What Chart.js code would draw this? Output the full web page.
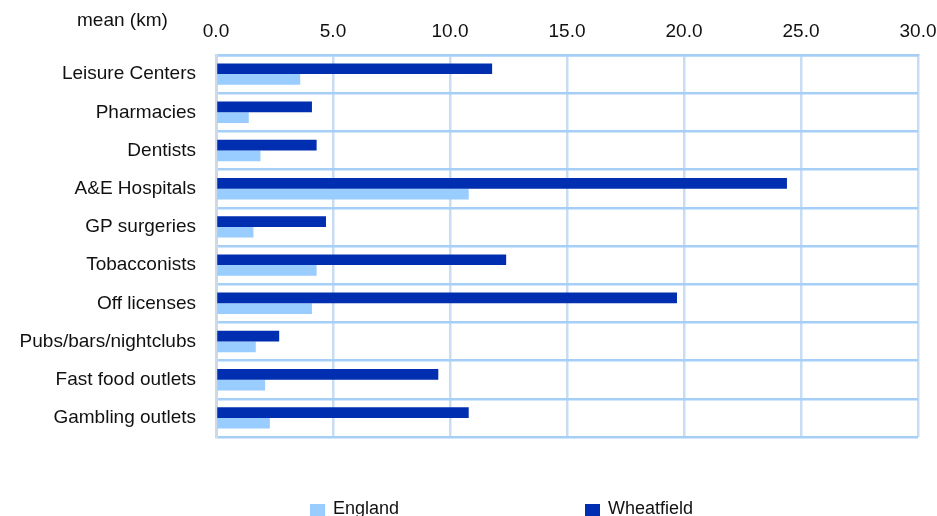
<!DOCTYPE html>
<html>
<head>
<meta charset="utf-8">
<script src="https://cdn.jsdelivr.net/npm/chart.js@4/dist/chart.umd.min.js"></script>
<style>
    html, body { margin: 0; padding: 0; background: #fff; }
    #wrap { width: 937px; height: 516px; }
</style>
</head>
<body>
<div id="wrap"><canvas id="myChart" width="937" height="516"></canvas></div>
<script>
// --- Dados ---
const categories = ['Leisure Centers', 'Pharmacies', 'Dentists', 'A&E Hospitals', 'GP surgeries',
    'Tobacconists', 'Off licenses', 'Pubs/bars/nightclubs', 'Fast food outlets', 'Gambling outlets'];
const wheatfieldValues = [11.8, 4.1, 4.3, 24.4, 4.7, 12.4, 19.7, 2.7, 9.5, 10.8];
const englandValues = [3.6, 1.4, 1.9, 10.8, 1.6, 4.3, 4.1, 1.7, 2.1, 2.3];
const xTicks = [0, 5, 10, 15, 20, 25, 30];

const FONT = "'Liberation Sans', Arial, sans-serif";
const TEXT = '#111';

// titulo do eixo + legenda desenhados à mão
const extrasPlugin = {
    id: 'extras',
    afterDraw(chart) {
        const ctx = chart.ctx;
        ctx.save();
        ctx.font = '19px ' + FONT;
        ctx.fillStyle = TEXT;
        ctx.textBaseline = 'middle';
        ctx.textAlign = 'left';
        ctx.fillText('mean (km)', 77, 21);

        // legenda: England primeiro, depois Wheatfield
        ctx.font = '18px ' + FONT;
        ctx.textBaseline = 'alphabetic';
        const items = [
            { ds: chart.data.datasets[1], x: 310 },
            { ds: chart.data.datasets[0], x: 585 }
        ];
        items.forEach(it => {
            ctx.fillStyle = it.ds.backgroundColor;
            ctx.fillRect(it.x, 504, 15, 13);
            ctx.fillStyle = TEXT;
            ctx.fillText(it.ds.label, it.x + 23, 514);
        });
        ctx.restore();
    }
};

const ctx = document.getElementById('myChart').getContext('2d');
new Chart(ctx, {
    type: 'bar',
    data: {
        labels: categories,
        datasets: [{
            label: 'Wheatfield',
            data: wheatfieldValues,
            backgroundColor: '#002EB0',
            categoryPercentage: 0.56,
            barPercentage: 1.0
        }, {
            label: 'England',
            data: englandValues,
            backgroundColor: '#99CCFF',
            categoryPercentage: 0.56,
            barPercentage: 1.0
        }]
    },
    options: {
        indexAxis: 'y',
        responsive: false,
        animation: false,
        layout: { padding: { left: 0, right: 19, top: 0, bottom: 79 } },
        plugins: {
            legend: { display: false },
            tooltip: { enabled: false }
        },
        scales: {
            x: {
                position: 'top',
                min: 0,
                max: 30,
                afterBuildTicks: (scale) => { scale.ticks = xTicks.map(v => ({ value: v })); },
                afterFit: (scale) => {
                    scale.height = 55;
                    scale.paddingLeft = 0;
                    scale.paddingRight = 0;
                },
                ticks: {
                    font: { family: FONT, size: 19 },
                    color: TEXT,
                    padding: 12,
                    maxRotation: 0,
                    callback: (v) => Number(v).toFixed(1)
                },
                grid: { color: '#C8DDF4', lineWidth: 2.5, drawTicks: false },
                border: { color: '#A6CFF8', width: 2.5 }
            },
            y: {
                afterFit: (scale) => { scale.width = 216; },
                ticks: {
                    font: { family: FONT, size: 19 },
                    color: TEXT,
                    padding: 20
                },
                grid: { offset: true, color: '#A6CFF8', lineWidth: 2.5, drawTicks: false },
                border: { color: '#CDD9E5', width: 3 }
            }
        }
    },
    plugins: [extrasPlugin]
});
</script>
</body>
</html>
